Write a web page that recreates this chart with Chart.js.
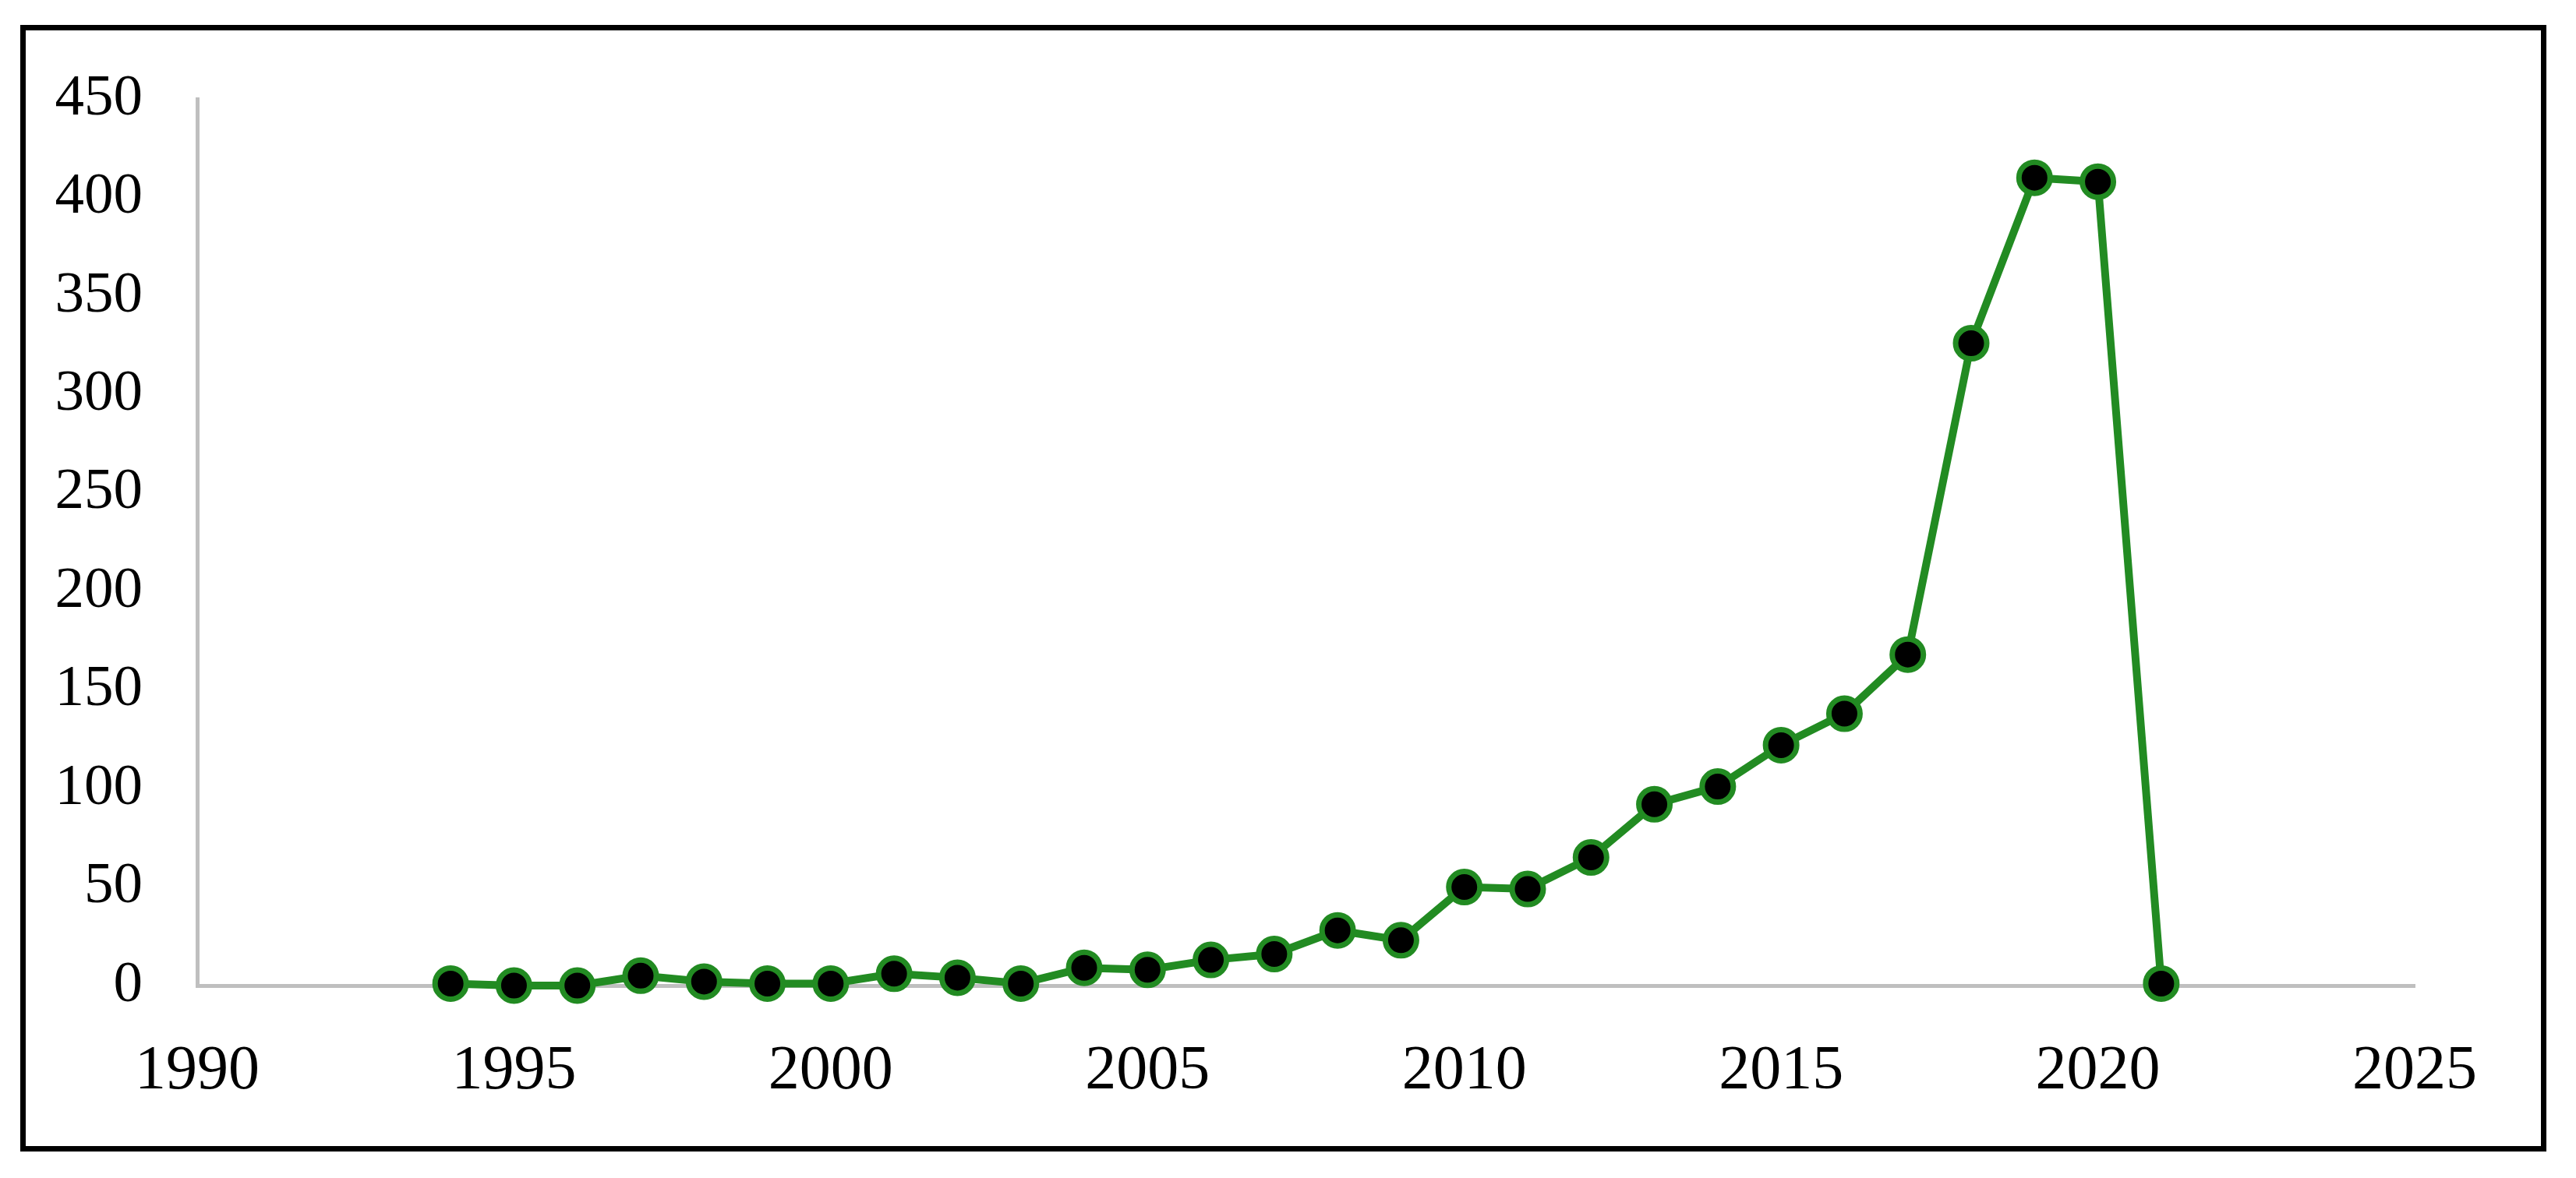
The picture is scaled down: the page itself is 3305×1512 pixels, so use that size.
<!DOCTYPE html>
<html>
<head>
<meta charset="utf-8">
<script src="https://cdn.jsdelivr.net/npm/chart.js@4.4.0/dist/chart.umd.min.js"></script>
<style>
  html, body { margin: 0; padding: 0; background: #fff; }
  #wrap { position: relative; width: 3305px; height: 1512px; }
  #frame {
    position: absolute; left: 26px; top: 32px;
    width: 3241px; height: 1446px;
    box-sizing: border-box; border: 7px solid #000;
    pointer-events: none;
  }
  canvas { position: absolute; left: 0; top: 0; }
</style>
</head>
<body>
<div id="wrap">
  <canvas id="pubChart" width="3305" height="1512"></canvas>
  <div id="frame"></div>
</div>
<script>
// data
const years = [1994, 1995, 1996, 1997, 1998, 1999, 2000, 2001, 2002, 2003, 2004, 2005, 2006, 2007,
  2008, 2009, 2010, 2011, 2012, 2013, 2014, 2015, 2016, 2017, 2018, 2019, 2020, 2021];
const counts = [1, 0, 0, 5, 2, 1, 1, 6, 4, 1, 9, 8, 13, 16,
  28, 23, 50, 49, 65, 92, 101, 122, 138, 168, 326, 410, 408, 1];

const xMin = 1990, xMax = 2025, xStep = 5;
const yMin = 0, yMax = 450, yStep = 50;

const green = '#228b22';
const axisGrey = '#bfbfbf';

const points = years.map((yr, i) => ({ x: yr, y: counts[i] }));

new Chart(document.getElementById('pubChart'), {
  type: 'line',
  data: {
    datasets: [{
      data: points,
      borderColor: green,
      borderWidth: 10,
      backgroundColor: '#000',
      pointBackgroundColor: '#000',
      pointBorderColor: green,
      pointBorderWidth: 7,
      pointRadius: 20,
      tension: 0,
      clip: false
    }]
  },
  options: {
    responsive: false,
    animation: false,
    layout: { padding: { left: 0, top: 127, right: 207, bottom: 0 } },
    plugins: {
      legend: { display: false },
      tooltip: { enabled: false }
    },
    scales: {
      x: {
        type: 'linear',
        min: xMin, max: xMax,
        grid: { display: false, drawTicks: false },
        border: { display: true, color: axisGrey, width: 5 },
        ticks: {
          stepSize: xStep,
          padding: 63,
          color: '#000',
          font: { family: 'Liberation Serif', size: 80 },
          callback: v => String(v)
        },
        afterFit: s => { s.height = 247; }
      },
      y: {
        min: yMin, max: yMax,
        grid: { display: false, drawTicks: false },
        border: { display: true, color: axisGrey, width: 5 },
        ticks: {
          stepSize: yStep,
          padding: 70,
          color: '#000',
          font: { family: 'Liberation Serif', size: 75 }
        },
        afterFit: s => { s.width = 253; }
      }
    }
  }
});
</script>
</body>
</html>
